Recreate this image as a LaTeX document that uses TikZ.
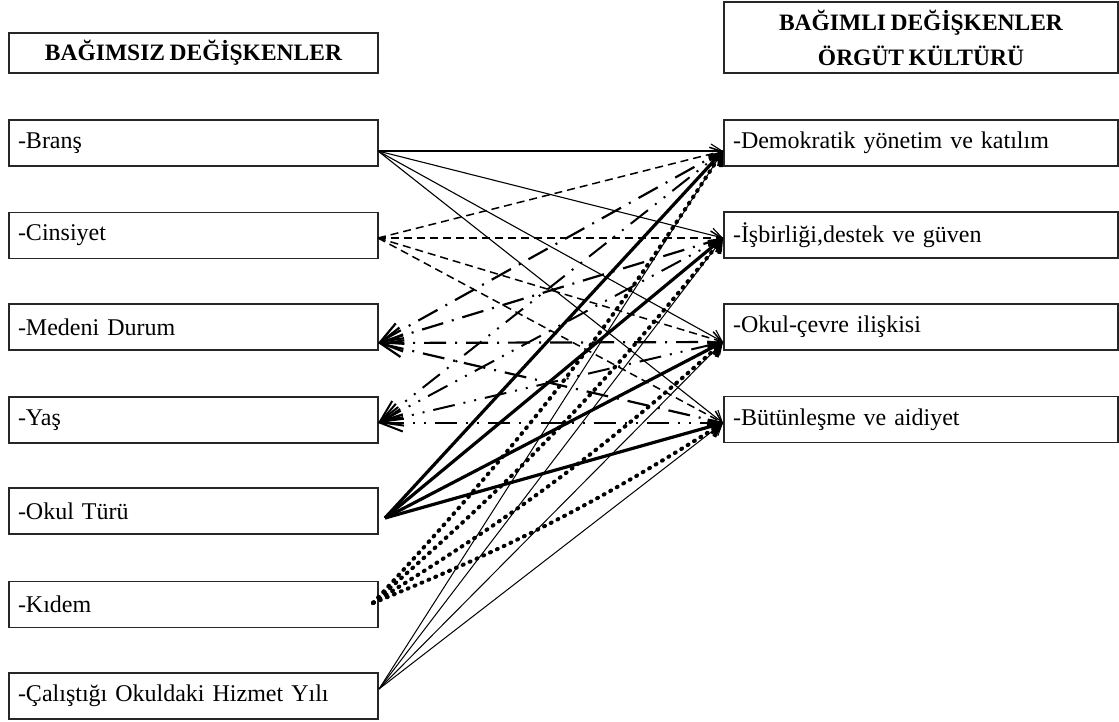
\documentclass[tikz,border=0pt]{standalone}
\usepackage{fontspec}
\setmainfont{Liberation Serif}
\usetikzlibrary{arrows.meta}
% narrower interword space for the box labels
\newcommand\narrowspaces{\spaceskip=4.5pt plus 1pt minus 0.5pt\relax}

\begin{document}
\begin{tikzpicture}[x=1pt,y=-1pt,
  txt/.style={font=\fontsize{24}{29}\selectfont\narrowspaces},
  box/.style={draw=black!85, line width=1.6pt, minimum height=46pt,
    inner xsep=9pt, inner ysep=0pt, align=left, txt},
  lbox/.style={box, text width=351pt},
  rbox/.style={box, text width=376pt},
  head/.style={draw=black!85, line width=1.6pt, align=center, inner sep=0pt,
    font=\fontsize{23.5}{35}\selectfont\bfseries\narrowspaces},
  tip/.style={-{Straight Barb[length=11pt,width=14pt]}},
  ltip/.style={{Straight Barb[length=22pt,width=17pt]}-},
  brans/.style={tip, line width=1.1pt},
  cins/.style={tip, line width=1.5pt, dash pattern=on 8pt off 5pt},
  medeni/.style={ltip, line width=2.2pt, dash pattern=on 22pt off 9pt on 2pt off 9pt},
  yas/.style={ltip, line width=2pt, dash pattern=on 22pt off 9pt on 2pt off 9pt on 2pt off 9pt},
  okul/.style={tip, line width=3.2pt},
  kidem/.style={tip, line width=4pt, line cap=round, dash pattern=on 1pt off 6.5pt},
  hizmet/.style={tip, line width=1pt}
]
\useasboundingbox (0,0) rectangle (1119,722);

% headers
\node[head, minimum width=369pt, minimum height=40pt] (hl) at (193.5,53) {BAĞIMSIZ DEĞİŞKENLER};
\node[head, minimum width=394pt, minimum height=71pt] (hr) at (921,37.5) {BAĞIMLI DEĞİŞKENLER\\ÖRGÜT KÜLTÜRÜ};

% independent variables
\node[lbox] (l1) at (193.5,143)   {-Branş};
\node[lbox] (l2) at (193.5,235.5) {-Cinsiyet};
\node[lbox] (l3) at (193.5,327)   {-Medeni Durum};
\node[lbox] (l4) at (193.5,420)   {-Yaş};
\node[lbox] (l5) at (193.5,511)   {-Okul Türü};
\node[lbox] (l6) at (193.5,604.5) {-Kıdem};
\node[lbox] (l7) at (193.5,696)   {-Çalıştığı Okuldaki Hizmet Yılı};

% dependent variables
\node[rbox] (r1) at (921,143)   {-Demokratik yönetim ve katılım};
\node[rbox] (r2) at (921,235)   {-İşbirliği,destek ve güven};
\node[rbox] (r3) at (921,327)   {-Okul-çevre ilişkisi};
\node[rbox] (r4) at (921,419.5) {-Bütünleşme ve aidiyet};

% connection points on the box edges
\coordinate (s1) at (378,151);
\coordinate (s2) at (378,238);
\coordinate (s3) at (378,343);
\coordinate (s4) at (378,423);
\coordinate (s5) at (385,518);
\coordinate (s6) at (373,603);
\coordinate (s7) at (379,689);
\coordinate (d) at (723,151);
\coordinate (i) at (723,238);
\coordinate (o) at (723,342);
\coordinate (b) at (723,423);

% relations
\foreach \t in {d,i,o,b} {
  \draw[brans]  (s1) -- (\t);
  \draw[cins]   (s2) -- (\t);
  \draw[medeni] (s3) -- (\t);
  \draw[yas]    (s4) -- (\t);
  \draw[okul]   (s5) -- (\t);
  \draw[kidem]  (s6) to[bend right=5] (\t);
  \draw[hizmet] (s7) -- (\t);
}
\end{tikzpicture}
\end{document}
